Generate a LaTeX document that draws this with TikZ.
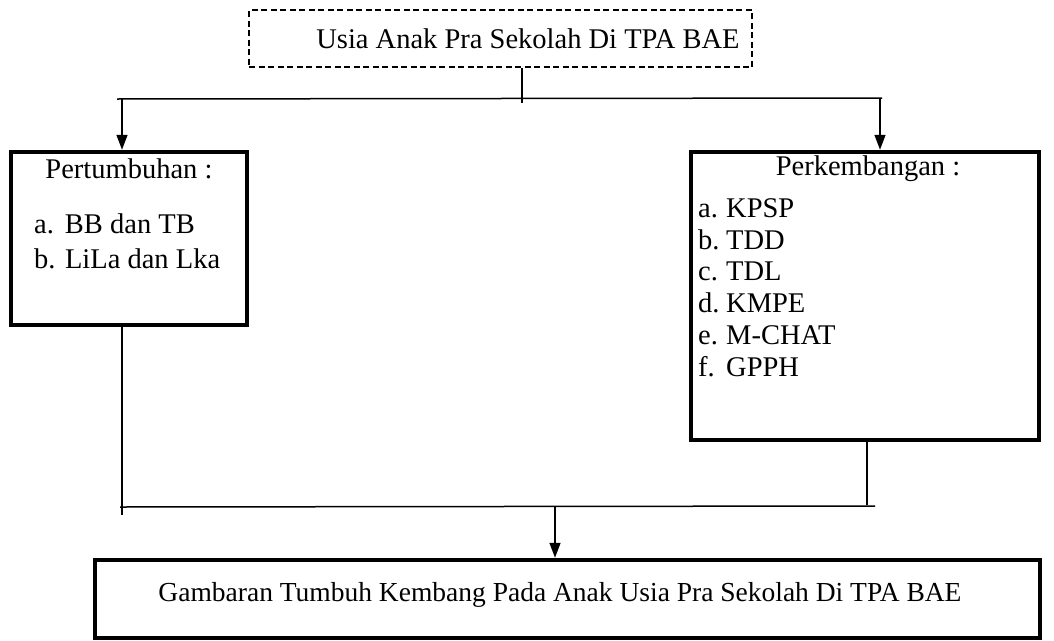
\documentclass[tikz,border=0pt]{standalone}
\usepackage{fontspec}
\setmainfont{Liberation Serif}
\usetikzlibrary{arrows.meta,calc}
\begin{document}
\begin{tikzpicture}[x=1pt,y=-1pt,
  txt/.style={inner sep=0pt,font=\fontsize{28.5}{32}\selectfont},
  txtb/.style={inner sep=0pt,font=\fontsize{27.5}{32}\selectfont},
  boxthick/.style={draw,line width=4.5pt,inner sep=0pt},
  boxdash/.style={draw,line width=1.6pt,dash pattern=on 6pt off 3.5pt,inner sep=0pt},
  conn/.style={line width=1.5pt},
  arr/.style={line width=1.5pt,-{Triangle[length=15pt,width=11pt]}}]
\useasboundingbox (0,0) rectangle (1054,640);
% boxes
\node[boxdash,minimum width=503pt,minimum height=57pt] (top) at (500.5,38.5) {};
\node[boxthick,minimum width=236pt,minimum height=173pt] (pt) at (129,238.5) {};
\node[boxthick,minimum width=348pt,minimum height=288pt] (pk) at (865,296) {};
\node[boxthick,minimum width=945pt,minimum height=78pt] (gb) at (567.5,599) {};
% texts
\node[txt] (t0) at (528,39) {Usia Anak Pra Sekolah Di TPA BAE};
\node[txt] (t1) at (129,169) {Pertumbuhan :};
\node[txt,anchor=mid west] (t1a) at (34,231) {a.\hspace{11pt}BB dan TB};
\node[txt,anchor=mid west] (t1b) at (34,266) {b. LiLa dan Lka};
\node[txt] (t2) at (868,169) {Perkembangan :};
\node[txt,anchor=mid west] (t2a) at (698,215) {a.};
\node[txt,anchor=mid west] (t2b) at (698,247) {b.};
\node[txt,anchor=mid west] (t2c) at (698,278) {c.};
\node[txt,anchor=mid west] (t2d) at (698,310) {d.};
\node[txt,anchor=mid west] (t2e) at (698,342) {e.};
\node[txt,anchor=mid west] (t2f) at (698,374) {f.};
\node[txt,anchor=mid west] (u2a) at (726,215) {KPSP};
\node[txt,anchor=mid west] (u2b) at (726,247) {TDD};
\node[txt,anchor=mid west] (u2c) at (726,278) {TDL};
\node[txt,anchor=mid west] (u2d) at (726,310) {KMPE};
\node[txt,anchor=mid west] (u2e) at (726,342) {M-CHAT};
\node[txt,anchor=mid west] (u2f) at (726,374) {GPPH};
\node[txtb] (t3) at (560,595) {Gambaran Tumbuh Kembang Pada Anak Usia Pra Sekolah Di TPA BAE};
% top connectors
\coordinate (j1) at (522,103);
\coordinate (h1l) at (117,99);
\coordinate (h1r) at (882,98);
\coordinate (la) at (122,99);
\coordinate (ra) at (880,98);
\draw[conn] (j1 |- top.south) -- (j1);
\draw[conn] (h1l) -- (h1r);
\draw[arr] (la) -- (la |- pt.north);
\draw[arr] (ra) -- (ra |- pk.north);
% bottom connectors
\coordinate (lb) at (122,515);
\coordinate (rb) at (867,505);
\coordinate (h2l) at (120,507);
\coordinate (h2r) at (875,506);
\coordinate (ma) at (555,507);
\draw[conn] (lb |- pt.south) -- (lb);
\draw[conn] (rb |- pk.south) -- (rb);
\draw[conn] (h2l) -- (h2r);
\draw[arr] (ma) -- (ma |- gb.north);
\end{tikzpicture}
\end{document}
